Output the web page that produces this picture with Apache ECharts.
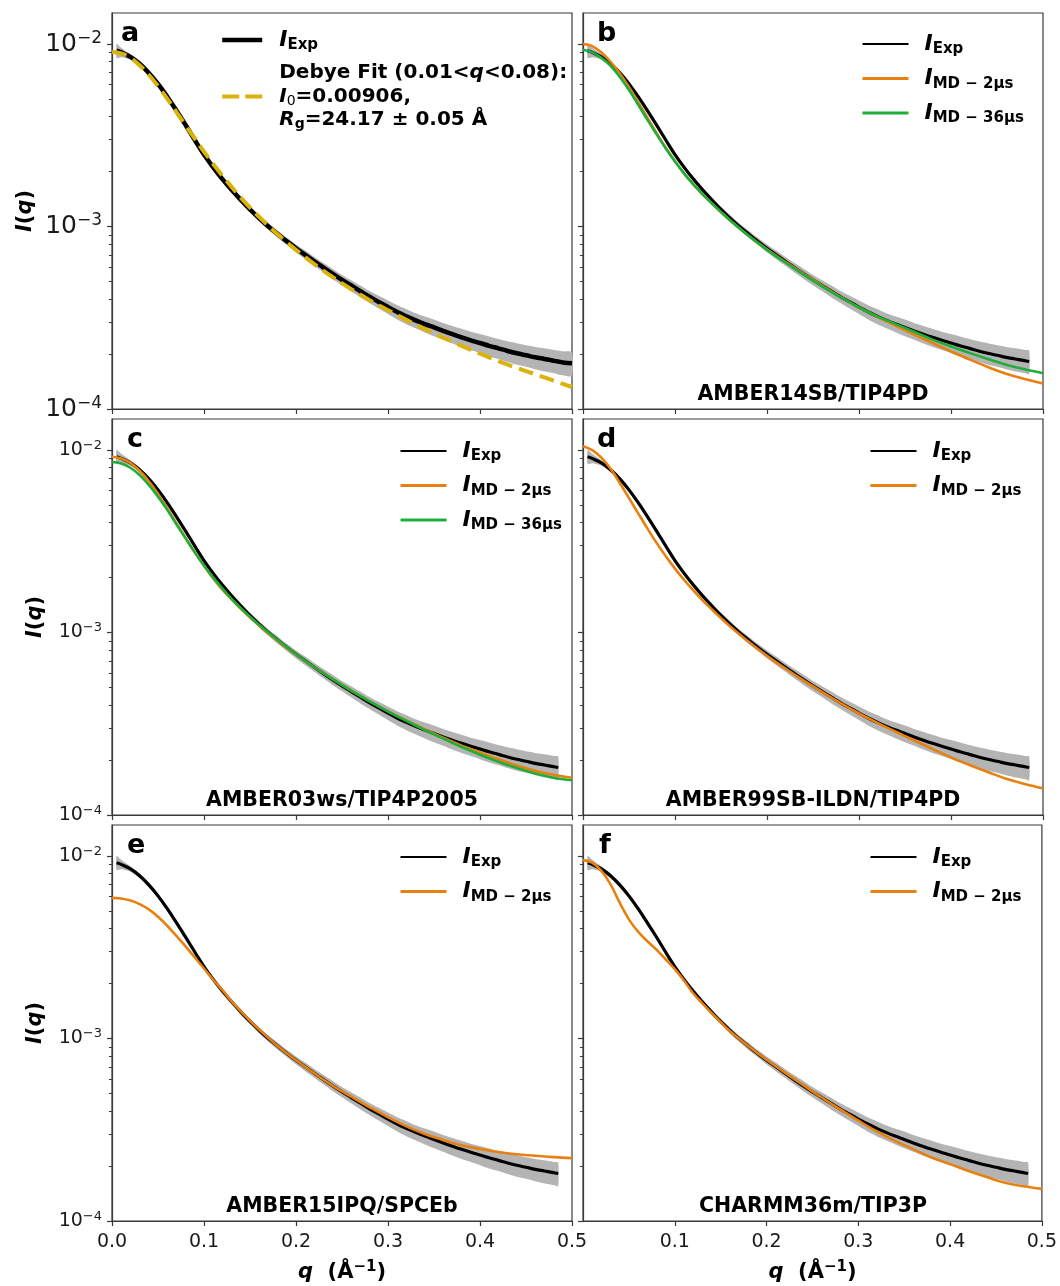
<!DOCTYPE html>
<html>
<head>
<meta charset="utf-8">
<script src="https://cdn.jsdelivr.net/npm/echarts@6/dist/echarts.min.js"></script>
<style>
  html, body { margin: 0; padding: 0; background: #fff; }
  #chart { width: 1060px; height: 1286px; }
</style>
</head>
<body>
<div id="chart"></div>
<script>
// ---- scattering data (q in 1/Å, intensity in arbitrary units) ----

// q grid of the simulated profiles and the Debye fit
const qModel = [0, 0.01, 0.02, 0.03, 0.04, 0.05, 0.06, 0.07, 0.08, 0.09, 0.10, 0.11, 0.12, 0.13, 0.14, 0.15, 0.16,
  0.18, 0.20, 0.22, 0.24, 0.26, 0.28, 0.30, 0.32, 0.34, 0.36, 0.38, 0.40, 0.42, 0.44, 0.46, 0.48, 0.50];

// measured profile
const qExp = [0.005, 0.01, 0.02, 0.03, 0.04, 0.05, 0.06, 0.07, 0.08, 0.09,
  0.10, 0.11, 0.12, 0.13, 0.14, 0.15, 0.16, 0.17, 0.18, 0.19,
  0.20, 0.21, 0.22, 0.23, 0.24, 0.25, 0.26, 0.27, 0.28, 0.29,
  0.30, 0.31, 0.32, 0.33, 0.34, 0.35, 0.36, 0.37, 0.38, 0.39,
  0.40, 0.41, 0.42, 0.43, 0.44, 0.45, 0.46, 0.47, 0.48, 0.485, 0.49, 0.50];
const iExp = [9.2e-3, 9.0e-3, 8.5e-3, 7.8e-3, 6.95e-3, 6.05e-3, 5.15e-3, 4.32e-3, 3.6e-3, 2.98e-3,
  2.48e-3, 2.11e-3, 1.82e-3, 1.59e-3, 1.40e-3, 1.24e-3, 1.11e-3, 1.0e-3, 9.1e-4, 8.3e-4,
  7.6e-4, 7.0e-4, 6.45e-4, 5.95e-4, 5.5e-4, 5.1e-4, 4.75e-4, 4.42e-4, 4.12e-4, 3.86e-4,
  3.62e-4, 3.4e-4, 3.22e-4, 3.06e-4, 2.92e-4, 2.8e-4, 2.68e-4, 2.57e-4, 2.47e-4, 2.38e-4,
  2.3e-4, 2.22e-4, 2.15e-4, 2.08e-4, 2.02e-4, 1.97e-4, 1.92e-4, 1.88e-4, 1.84e-4, 1.82e-4, 1.8e-4, 1.78e-4];
// relative uncertainty of the measured profile
const errExp = [0.09, 0.06, 0.035, 0.03, 0.03, 0.03, 0.03, 0.03, 0.03, 0.03,
  0.03, 0.03, 0.03, 0.03, 0.035, 0.035, 0.04, 0.04, 0.045, 0.045,
  0.05, 0.055, 0.055, 0.06, 0.065, 0.065, 0.07, 0.075, 0.075, 0.08,
  0.085, 0.09, 0.095, 0.095, 0.1, 0.105, 0.105, 0.11, 0.115, 0.115,
  0.12, 0.125, 0.125, 0.13, 0.135, 0.135, 0.14, 0.145, 0.145, 0.15, 0.15, 0.15];
const qExpCut = 0.485; // last measured point shown in the force-field panels

// Debye fit, I0 = 0.00906, Rg = 24.17 Å
const iDebye = [9.06e-3, 8.89e-3, 8.40e-3, 7.66e-3, 6.79e-3, 5.88e-3, 5.02e-3, 4.25e-3, 3.58e-3, 3.03e-3,
  2.57e-3, 2.20e-3, 1.90e-3, 1.65e-3, 1.44e-3, 1.27e-3, 1.13e-3,
  9.07e-4, 7.45e-4, 6.22e-4, 5.28e-4, 4.54e-4, 3.95e-4, 3.48e-4, 3.08e-4, 2.74e-4, 2.46e-4, 2.22e-4,
  2.01e-4, 1.83e-4, 1.68e-4, 1.55e-4, 1.43e-4, 1.32e-4];

// AMBER14SB/TIP4PD
const iB2 = [1.0e-2, 9.75e-3, 9.0e-3, 8.0e-3, 6.9e-3, 5.8e-3, 4.8e-3, 3.95e-3, 3.25e-3, 2.7e-3,
  2.28e-3, 1.95e-3, 1.7e-3, 1.5e-3, 1.34e-3, 1.2e-3, 1.08e-3,
  8.9e-4, 7.5e-4, 6.4e-4, 5.5e-4, 4.75e-4, 4.1e-4, 3.6e-4, 3.2e-4, 2.86e-4, 2.56e-4, 2.3e-4,
  2.07e-4, 1.87e-4, 1.7e-4, 1.56e-4, 1.46e-4, 1.38e-4];
const iB36 = [9.3e-3, 9.0e-3, 8.4e-3, 7.6e-3, 6.6e-3, 5.6e-3, 4.65e-3, 3.85e-3, 3.2e-3, 2.68e-3,
  2.27e-3, 1.95e-3, 1.7e-3, 1.5e-3, 1.34e-3, 1.2e-3, 1.08e-3,
  8.9e-4, 7.45e-4, 6.35e-4, 5.45e-4, 4.7e-4, 4.1e-4, 3.6e-4, 3.22e-4, 2.92e-4, 2.65e-4, 2.4e-4,
  2.2e-4, 2.03e-4, 1.88e-4, 1.75e-4, 1.65e-4, 1.57e-4];

// AMBER03ws/TIP4P2005
const iC2 = [9.2e-3, 9.0e-3, 8.5e-3, 7.7e-3, 6.75e-3, 5.75e-3, 4.8e-3, 3.98e-3, 3.3e-3, 2.75e-3,
  2.32e-3, 1.98e-3, 1.72e-3, 1.52e-3, 1.35e-3, 1.21e-3, 1.09e-3,
  9.0e-4, 7.55e-4, 6.45e-4, 5.55e-4, 4.8e-4, 4.2e-4, 3.7e-4, 3.3e-4, 2.95e-4, 2.65e-4, 2.4e-4,
  2.2e-4, 2.02e-4, 1.87e-4, 1.75e-4, 1.66e-4, 1.6e-4];
const iC36 = [8.6e-3, 8.45e-3, 8.0e-3, 7.3e-3, 6.45e-3, 5.55e-3, 4.7e-3, 3.92e-3, 3.28e-3, 2.75e-3,
  2.33e-3, 2.0e-3, 1.74e-3, 1.53e-3, 1.36e-3, 1.22e-3, 1.1e-3,
  9.1e-4, 7.6e-4, 6.45e-4, 5.55e-4, 4.8e-4, 4.2e-4, 3.7e-4, 3.28e-4, 2.92e-4, 2.62e-4, 2.36e-4,
  2.14e-4, 1.96e-4, 1.81e-4, 1.69e-4, 1.6e-4, 1.55e-4];

// AMBER99SB-ILDN/TIP4PD
const iD2 = [1.05e-2, 1.0e-2, 9.1e-3, 7.9e-3, 6.6e-3, 5.45e-3, 4.5e-3, 3.72e-3, 3.1e-3, 2.62e-3,
  2.24e-3, 1.94e-3, 1.7e-3, 1.5e-3, 1.34e-3, 1.2e-3, 1.08e-3,
  8.9e-4, 7.45e-4, 6.35e-4, 5.45e-4, 4.72e-4, 4.1e-4, 3.6e-4, 3.2e-4, 2.86e-4, 2.56e-4, 2.3e-4,
  2.07e-4, 1.88e-4, 1.72e-4, 1.58e-4, 1.48e-4, 1.4e-4];

// AMBER15IPQ/SPCEb
const iE2 = [5.9e-3, 5.85e-3, 5.7e-3, 5.45e-3, 5.1e-3, 4.65e-3, 4.15e-3, 3.65e-3, 3.2e-3, 2.78e-3,
  2.42e-3, 2.1e-3, 1.84e-3, 1.6e-3, 1.41e-3, 1.25e-3, 1.12e-3,
  9.1e-4, 7.6e-4, 6.45e-4, 5.5e-4, 4.8e-4, 4.2e-4, 3.7e-4, 3.3e-4, 3.0e-4, 2.78e-4, 2.6e-4,
  2.48e-4, 2.39e-4, 2.32e-4, 2.28e-4, 2.24e-4, 2.21e-4];

// CHARMM36m/TIP3P
const iF2 = [9.5e-3, 9.2e-3, 8.3e-3, 7.0e-3, 5.55e-3, 4.5e-3, 3.85e-3, 3.42e-3, 3.07e-3, 2.72e-3,
  2.4e-3, 2.08e-3, 1.77e-3, 1.56e-3, 1.38e-3, 1.23e-3, 1.1e-3,
  9.1e-4, 7.65e-4, 6.5e-4, 5.55e-4, 4.75e-4, 4.1e-4, 3.55e-4, 3.1e-4, 2.75e-4, 2.47e-4, 2.23e-4,
  2.05e-4, 1.88e-4, 1.74e-4, 1.62e-4, 1.55e-4, 1.5e-4];

// axis ticks
const xTicks = [0, 0.1, 0.2, 0.3, 0.4, 0.5];
const yDecades = [1e-4, 1e-3, 1e-2];
const yMinor = [2e-4, 3e-4, 4e-4, 5e-4, 6e-4, 7e-4, 8e-4, 9e-4, 2e-3, 3e-3, 4e-3, 5e-3, 6e-3, 7e-3, 8e-3, 9e-3];
const yMin = 1e-4, yMax = 0.0148;

const panelLetters = ['a', 'b', 'c', 'd', 'e', 'f'];
const forceFields = ['', 'AMBER14SB/TIP4PD', 'AMBER03ws/TIP4P2005', 'AMBER99SB-ILDN/TIP4PD', 'AMBER15IPQ/SPCEb', 'CHARMM36m/TIP3P'];

// ---- styling ----
const FONT = 'DejaVu Sans';
const AX = '#3a3a3a';
const ORANGE = '#e8800f';
const GREEN = '#1fae3a';
const GOLD = '#d9b20a';
const BAND = '#b4b4b4';

const colLeft = [112, 583];
const rowTop = [13, 419, 825];
const panelW = 460, panelH = 396;

const pairs = (qs, vs) => qs.map((q, i) => [q, vs[i]]);

function expSlice(cut) {
  const n = qExp.filter(q => q <= cut + 1e-9).length;
  return { q: qExp.slice(0, n), v: iExp.slice(0, n), e: errExp.slice(0, n) };
}

function bandSeries(idx, d) {
  const lo = d.v.map((v, i) => v * (1 - d.e[i]));
  const hi = d.v.map((v, i) => v * (1 + d.e[i]));
  return {
    type: 'custom', xAxisIndex: idx, yAxisIndex: idx, silent: true, z: 1,
    data: [[0.1, 1e-3]],
    renderItem: (params, api) => {
      const pts = [];
      for (let i = 0; i < d.q.length; i++) pts.push(api.coord([d.q[i], hi[i]]));
      for (let i = d.q.length - 1; i >= 0; i--) pts.push(api.coord([d.q[i], lo[i]]));
      return { type: 'polygon', shape: { points: pts, smooth: 0.2 }, style: { fill: BAND } };
    }
  };
}

function lineSeries(idx, name, data, color, width, z, dash) {
  return {
    type: 'line', name, xAxisIndex: idx, yAxisIndex: idx, data,
    showSymbol: false, symbol: 'none', smooth: 0.4, silent: true, z,
    lineStyle: { color, width, type: dash || 'solid', cap: 'butt' },
    itemStyle: { color },
    emphasis: { disabled: true }
  };
}

const grids = [], xAxes = [], yAxes = [], series = [], legends = [], graphics = [];

const legendRich = {
  I: { fontFamily: FONT, fontSize: 22, fontWeight: 'bold', fontStyle: 'italic', lineHeight: 26, color: '#000' },
  sub: { fontFamily: FONT, fontSize: 15, fontWeight: 'bold', lineHeight: 15, verticalAlign: 'bottom', color: '#000' },
  t: { fontFamily: FONT, fontSize: 20, fontWeight: 'bold', lineHeight: 23.5, color: '#000' },
  ti: { fontFamily: FONT, fontSize: 20, fontWeight: 'bold', fontStyle: 'italic', lineHeight: 23.5, color: '#000' },
  s0: { fontFamily: FONT, fontSize: 14, lineHeight: 14, verticalAlign: 'bottom', color: '#000' },
  sg: { fontFamily: FONT, fontSize: 14, fontWeight: 'bold', lineHeight: 14, verticalAlign: 'bottom', color: '#000' }
};
const legendText = {
  exp: '{I|I}{sub|Exp}',
  md2: '{I|I}{sub|MD − 2μs}',
  md36: '{I|I}{sub|MD − 36μs}',
  debye: '{t|Debye Fit (0.01<}{ti|q}{t|<0.08):}\n{ti|I}{s0|0}{t|=0.00906,}\n{ti|R}{sg|g}{t|=24.17 ± 0.05 Å}'
};

const legendPos = [[220, 29], [861, 33], [399, 440], [869, 440], [399, 846], [869, 846]];
const letterPos = [[121, 34], [597, 34], [127, 440], [597, 440], [127, 846], [599, 846]];

for (let p = 0; p < 6; p++) {
  const row = Math.floor(p / 2), col = p % 2;
  const left = colLeft[col], top = rowTop[row];
  grids.push({ left, top, width: panelW, height: panelH, show: true, borderColor: AX, borderWidth: 1.2, backgroundColor: 'transparent' });

  xAxes.push({
    type: 'value', gridIndex: p, min: 0, max: 0.5, interval: 0.1,
    axisLine: { show: true, onZero: false, lineStyle: { color: AX, width: 1.2 } },
    axisTick: { show: true, inside: false, length: 5, customValues: xTicks, lineStyle: { color: AX, width: 1.2 } },
    axisLabel: {
      show: row === 2, showMinLabel: col === 0, margin: 12,
      formatter: v => v.toFixed(1), fontFamily: FONT, fontSize: 19, color: '#1a1a1a'
    },
    splitLine: { show: false },
    name: row === 2 ? '{bi|q}{b|  (Å}{s|−1}{b|)}' : '',
    nameLocation: 'middle', nameGap: 39,
    nameTextStyle: {
      rich: {
        bi: { fontFamily: FONT, fontSize: 21, fontWeight: 'bold', fontStyle: 'italic', lineHeight: 26, color: '#000' },
        b: { fontFamily: FONT, fontSize: 21, fontWeight: 'bold', lineHeight: 26, color: '#000' },
        s: { fontFamily: FONT, fontSize: 15, fontWeight: 'bold', lineHeight: 12, verticalAlign: 'top', color: '#000' }
      }
    }
  });

  const big = row === 0;
  yAxes.push({
    type: 'log', logBase: 10, gridIndex: p, min: yMin, max: yMax, position: 'left',
    axisLine: { show: true, lineStyle: { color: AX, width: 1.2 } },
    axisTick: { show: true, inside: false, length: 5, customValues: yDecades, lineStyle: { color: AX, width: 1.2 } },
    axisLabel: {
      show: col === 0, customValues: yDecades, margin: 10,
      formatter: v => '{b|10}{s|−' + Math.abs(Math.round(Math.log10(v))) + '}',
      rich: {
        b: { fontFamily: FONT, fontSize: big ? 25 : 19, lineHeight: big ? 28 : 22, color: '#1a1a1a' },
        s: { fontFamily: FONT, fontSize: big ? 17 : 13, lineHeight: big ? 12 : 9, verticalAlign: 'top', color: '#1a1a1a' }
      }
    },
    splitLine: { show: false },
    name: col === 0 ? '{bi|I}{b|(}{bi|q}{b|)}' : '',
    nameLocation: 'middle', nameRotate: 90, nameGap: big ? 76 : 66,
    nameTextStyle: {
      rich: {
        bi: { fontFamily: FONT, fontSize: 21, fontWeight: 'bold', fontStyle: 'italic', color: '#000' },
        b: { fontFamily: FONT, fontSize: 21, fontWeight: 'bold', color: '#000' }
      }
    }
  });

  // panel letter and force-field caption
  graphics.push({
    type: 'text', x: letterPos[p][0], y: letterPos[p][1], silent: true,
    style: { text: panelLetters[p], font: 'bold 27px "DejaVu Sans"', fill: '#000', align: 'left', verticalAlign: 'middle' }
  });
  if (forceFields[p]) {
    graphics.push({
      type: 'text', x: left + panelW / 2, y: top + panelH - 14, silent: true,
      style: { text: forceFields[p], font: 'bold 20.5px "DejaVu Sans"', fill: '#000', align: 'center', verticalAlign: 'middle' }
    });
  }
}

// minor ticks of the logarithmic intensity axes
for (let p = 0; p < 6; p++) {
  yAxes.push({
    type: 'log', logBase: 10, gridIndex: p, min: yMin, max: yMax, position: 'left',
    axisLine: { show: false },
    axisTick: { show: true, inside: false, length: 3, customValues: yMinor, lineStyle: { color: AX, width: 1 } },
    axisLabel: { show: false },
    splitLine: { show: false }
  });
}

// panel a: measurement with the Debye fit
const expAll = expSlice(0.5);
series.push(bandSeries(0, expAll));
series.push(lineSeries(0, 'exp', pairs(expAll.q, expAll.v), '#000', 4.5, 3));
series.push(lineSeries(0, 'debye', pairs(qModel, iDebye), GOLD, 4, 4, [15, 7]));

// panels b-f: measurement against the simulated profiles
const expCut = expSlice(qExpCut);
const models = [
  [iB2, iB36], [iC2, iC36], [iD2], [iE2], [iF2]
];
models.forEach((m, k) => {
  const p = k + 1;
  series.push(bandSeries(p, expCut));
  series.push(lineSeries(p, 'exp', pairs(expCut.q, expCut.v), '#000', 3.2, 3));
  series.push(lineSeries(p, 'md2', pairs(qModel, m[0]), ORANGE, 2.6, 4));
  if (m[1]) series.push(lineSeries(p, 'md36', pairs(qModel, m[1]), GREEN, 2.6, 5));
});

const thin = { width: 2, type: 'solid' }, mid = { width: 3, type: 'solid' };
const legendItems = [
  [{ name: 'exp', lineStyle: { width: 4.5, type: 'solid' } }, { name: 'debye', lineStyle: { width: 4, type: [17, 6] } }],
  [{ name: 'exp', lineStyle: thin }, { name: 'md2', lineStyle: mid }, { name: 'md36', lineStyle: mid }],
  [{ name: 'exp', lineStyle: thin }, { name: 'md2', lineStyle: mid }, { name: 'md36', lineStyle: mid }],
  [{ name: 'exp', lineStyle: thin }, { name: 'md2', lineStyle: mid }],
  [{ name: 'exp', lineStyle: thin }, { name: 'md2', lineStyle: mid }],
  [{ name: 'exp', lineStyle: thin }, { name: 'md2', lineStyle: mid }]
];
legendItems.forEach((items, p) => {
  legends.push({
    left: legendPos[p][0], top: legendPos[p][1], orient: 'vertical',
    padding: 0, itemGap: p === 0 ? 10 : 10.5, itemWidth: p === 0 ? 40 : 46, itemHeight: 14,
    selectedMode: false,
    itemStyle: { opacity: 0 },
    data: items,
    formatter: name => legendText[name],
    textStyle: { padding: [0, 0, 0, p === 0 ? 12 : 11], rich: legendRich }
  });
});

const chart = echarts.init(document.getElementById('chart'), null, { renderer: 'canvas' });
chart.setOption({
  animation: false,
  backgroundColor: '#fff',
  grid: grids,
  xAxis: xAxes,
  yAxis: yAxes,
  legend: legends,
  series,
  graphic: graphics
});
</script>
</body>
</html>
